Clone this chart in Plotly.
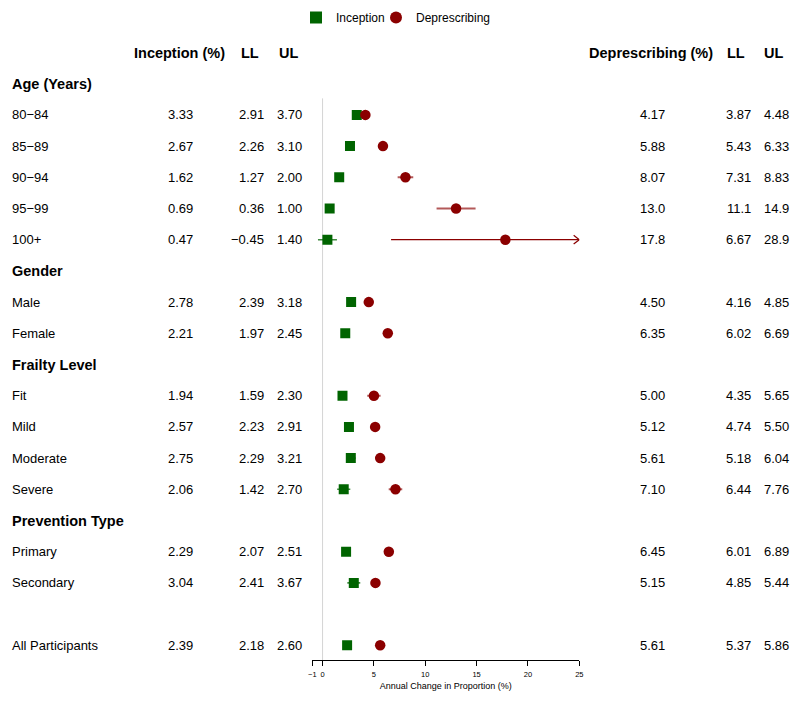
import plotly.graph_objects as go

# ---------------- data ----------------
row_labels = ["Age (Years)", "80\u221284", "85\u221289", "90\u221294", "95\u221299", "100+",
              "Gender", "Male", "Female",
              "Frailty Level", "Fit", "Mild", "Moderate", "Severe",
              "Prevention Type", "Primary", "Secondary", "", "All Participants"]
is_heading = [True, False, False, False, False, False,
              True, False, False,
              True, False, False, False, False,
              True, False, False, False, False]
inception = [None, 3.33, 2.67, 1.62, 0.69, 0.47, None, 2.78, 2.21, None, 1.94, 2.57, 2.75, 2.06,
             None, 2.29, 3.04, None, 2.39]
inception_ll = [None, 2.91, 2.26, 1.27, 0.36, -0.45, None, 2.39, 1.97, None, 1.59, 2.23, 2.29, 1.42,
                None, 2.07, 2.41, None, 2.18]
inception_ul = [None, 3.70, 3.10, 2.00, 1.00, 1.40, None, 3.18, 2.45, None, 2.30, 2.91, 3.21, 2.70,
                None, 2.51, 3.67, None, 2.60]
depres = [None, 4.17, 5.88, 8.07, 13.0, 17.8, None, 4.50, 6.35, None, 5.00, 5.12, 5.61, 7.10,
          None, 6.45, 5.15, None, 5.61]
depres_ll = [None, 3.87, 5.43, 7.31, 11.1, 6.67, None, 4.16, 6.02, None, 4.35, 4.74, 5.18, 6.44,
             None, 6.01, 4.85, None, 5.37]
depres_ul = [None, 4.48, 6.33, 8.83, 14.9, 28.9, None, 4.85, 6.69, None, 5.65, 5.50, 6.04, 7.76,
             None, 6.89, 5.44, None, 5.86]
x_ticks = [-1, 0, 5, 10, 15, 20, 25]
x_min, x_max = -1, 25

GREEN = "#006400"
RED = "#8B0000"
FONT = "Liberation Sans, Arial, sans-serif"
W, H = 800, 701
OX, OY = 8, 8          # page offset compensation (body margin)
ROW0, ROWH = 52.5, 31.2  # pixel centre of header row and row pitch

rows = list(range(1, len(row_labels) + 1))  # row 0 = column headers


def px(x):
    return (x - OX) / W


def fmt(v):
    if v is None:
        return ""
    s = f"{v:.1f}" if abs(v) >= 10 else f"{v:.2f}"
    return s.replace("-", "\u2212")


fig = go.Figure()

bottom_px = 660 - OY
y_bottom = (bottom_px - (ROW0 - OY)) / ROWH
y_top = -(ROW0 - OY) / ROWH

# reference line at zero
fig.add_shape(type="line", xref="x", yref="y", x0=0, x1=0, y0=1.47, y1=y_bottom,
              line=dict(color="#d4d4d4", width=1), layer="below")


def segs(ll, ul, clip):
    xs, ys = [], []
    for r, a, b in zip(rows, ll, ul):
        if a is None:
            continue
        if clip is None or (clip and b > x_max) or (clip is False and b <= x_max):
            xs += [a, min(b, x_max), None]
            ys += [r, r, None]
    return xs, ys


xi, yi = segs(inception_ll, inception_ul, None)
fig.add_trace(go.Scatter(x=xi, y=yi, mode="lines", line=dict(color="rgba(0,100,0,0.75)", width=1.6),
                         hoverinfo="skip", showlegend=False))
xd, yd = segs(depres_ll, depres_ul, False)
fig.add_trace(go.Scatter(x=xd, y=yd, mode="lines", line=dict(color="rgba(139,0,0,0.65)", width=2),
                         hoverinfo="skip", showlegend=False))
# CI running past the axis limit is drawn as an arrow
xa, ya = segs(depres_ll, depres_ul, True)
arrow_x, arrow_y = [], []
for r, b in zip(rows, depres_ul):
    if b is not None and b > x_max:
        arrow_x += [x_max - 0.55, x_max, x_max - 0.55, None]
        arrow_y += [r - 0.14, r, r + 0.14, None]
fig.add_trace(go.Scatter(x=xa + arrow_x, y=ya + arrow_y, mode="lines",
                         line=dict(color=RED, width=1.2), hoverinfo="skip", showlegend=False))

# point estimates
fig.add_trace(go.Scatter(x=[v for v in inception if v is not None],
                         y=[r for r, v in zip(rows, inception) if v is not None],
                         mode="markers", name="Inception", legend="legend",
                         marker=dict(symbol="square", size=10, color=GREEN)))
fig.add_trace(go.Scatter(x=[v for v in depres if v is not None],
                         y=[r for r, v in zip(rows, depres) if v is not None],
                         mode="markers", name="Deprescribing", legend="legend2",
                         marker=dict(symbol="circle", size=10.5, color=RED)))

# ---------------- table text ----------------
ann = []


def add(x, row, text, anchor, bold=False, size=13):
    ann.append(dict(x=px(x), xref="paper", y=row, yref="y", text=("<b>%s</b>" % text) if bold else text,
                    xanchor=anchor, yanchor="middle", showarrow=False,
                    font=dict(family=FONT, size=size, color="black")))


headers = [("Inception (%)", 179), ("LL", 249.5), ("UL", 288),
           ("Deprescribing (%)", 651), ("LL", 736.3), ("UL", 773)]
for t, x in headers:
    add(x, 0, t, "center", bold=True, size=14.5)

for r, lab, hd, v1, l1, u1, v2, l2, u2 in zip(rows, row_labels, is_heading, inception, inception_ll,
                                               inception_ul, depres, depres_ll, depres_ul):
    if lab:
        add(9.5, r, lab, "left", bold=hd, size=14.5 if hd else 13)
    if v1 is not None:
        add(180.5, r, fmt(v1), "center")
        add(265.5, r, fmt(l1), "right")
        add(304, r, fmt(u1), "right")
        add(652.5, r, fmt(v2), "center")
        add(752.5, r, fmt(l2), "right")
        add(790.5, r, fmt(u2), "right")

legend_style = dict(orientation="h", y=1 + 5 / H, yanchor="top", xanchor="left",
                    font=dict(family=FONT, size=12), itemsizing="constant", bgcolor="rgba(0,0,0,0)")

fig.update_layout(
    width=W, height=H,
    margin=dict(l=0, r=0, t=0, b=0, autoexpand=False),
    paper_bgcolor="white", plot_bgcolor="white",
    font=dict(family=FONT, color="black"),
    annotations=ann,
    showlegend=True,
    legend=dict(x=px(296), **legend_style),
    legend2=dict(x=px(376), **legend_style),
    xaxis=dict(domain=[px(312.3), px(579.3)], range=[x_min, x_max], tickvals=x_ticks,
               ticktext=[str(t).replace("-", "\u2212") for t in x_ticks],
               showgrid=False, zeroline=False, showline=True, linecolor="black", linewidth=1,
               ticks="outside", ticklen=5, tickcolor="black", tickwidth=1, ticklabelstandoff=2,
               tickfont=dict(family=FONT, size=7.5),
               title=dict(text="Annual Change in Proportion (%)", font=dict(family=FONT, size=9), standoff=4)),
    yaxis=dict(domain=[(H - bottom_px) / H, 1], range=[y_bottom, y_top], visible=False),
)

fig.write_html("out.html")
